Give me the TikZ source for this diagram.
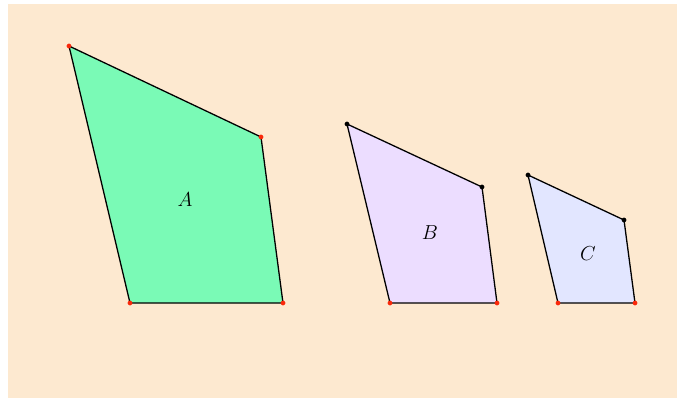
\documentclass[tikz,border=0pt]{standalone}
\definecolor{paper}{RGB}{253,233,208}
\definecolor{quadA}{RGB}{122,250,182}
\definecolor{quadB}{RGB}{236,221,255}
\definecolor{quadC}{RGB}{226,230,255}
\definecolor{vert}{RGB}{250,40,10}
\begin{document}
\begin{tikzpicture}[x=0.03cm, y=-0.03cm]
        % Background and bounding box
        \useasboundingbox (0,0) rectangle (677,398);
        \fill[paper] (8,4) rectangle (677,398);

        % Quadrilateral A
        \filldraw[fill=quadA, draw=black, line width=1.1pt]
            (69,46) -- (261,137) -- (283,303) -- (130,303) -- cycle;
        \node[font=\fontsize{19}{21}\selectfont] (labA) at (185,200) {$A$};
        \foreach \p in {(69,46), (261,137), (283,303), (130,303)}
            \filldraw[vert] \p circle (1.8pt);

        % Quadrilateral B
        \filldraw[fill=quadB, draw=black, line width=1.1pt]
            (347,124) -- (482,187) -- (497,303) -- (390,303) -- cycle;
        \node[font=\fontsize{19}{21}\selectfont] (labB) at (430,233) {$B$};
        \filldraw[black] (347,124) circle (1.8pt);
        \filldraw[black] (482,187) circle (1.8pt);
        \filldraw[vert] (497,303) circle (1.8pt);
        \filldraw[vert] (390,303) circle (1.8pt);

        % Quadrilateral C
        \filldraw[fill=quadC, draw=black, line width=1.1pt]
            (528,175) -- (624,220) -- (635,303) -- (558,303) -- cycle;
        \node[font=\fontsize{19}{21}\selectfont] (labC) at (588,254) {$C$};
        \filldraw[black] (528,175) circle (1.8pt);
        \filldraw[black] (624,220) circle (1.8pt);
        \filldraw[vert] (635,303) circle (1.8pt);
        \filldraw[vert] (558,303) circle (1.8pt);
    \end{tikzpicture}
\end{document}
